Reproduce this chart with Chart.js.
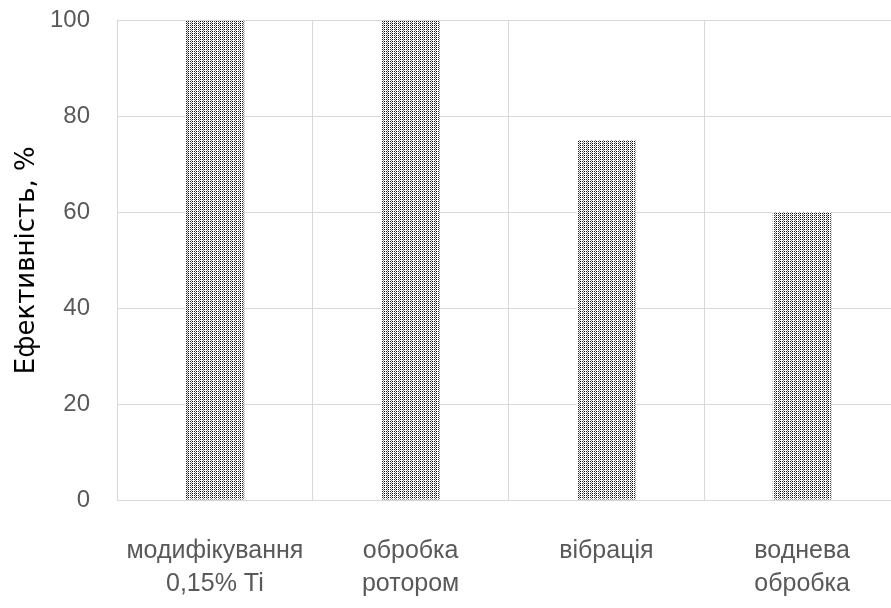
<!DOCTYPE html>
<html>
<head>
<meta charset="utf-8">
<script src="https://cdn.jsdelivr.net/npm/chart.js@4.4.0/dist/chart.umd.min.js"></script>
<style>
  html, body { margin: 0; padding: 0; background: #fff; overflow: hidden; }
  #wrap { position: absolute; left: 0; top: -21px; width: 900px; height: 629px; }
</style>
</head>
<body>
<div id="wrap"><canvas id="barChart" width="900" height="629"></canvas></div>
<script>
// categories and values
const categories = [
  ['модифікування', '0,15% Ti'],
  ['обробка', 'ротором'],
  'вібрація',
  ['воднева', 'обробка']
]
const efficiency = [100, 100, 75, 60]
const yTicks = [0, 20, 40, 60, 80, 100]

// dotted fill, columns of small dots
function makeDots() {
  const c = document.createElement('canvas')
  c.width = 8
  c.height = 2
  const g = c.getContext('2d')
  g.fillStyle = '#fff'
  g.fillRect(0, 0, 8, 2)
  const shades = ['#000', '#fff', '#222', '#777', '#000', '#fff', '#333', '#888']
  for (let i = 0; i < 8; i++) {
    g.fillStyle = shades[i]
    g.fillRect(i, i % 2, 1, 1)
  }
  return g.createPattern(c, 'repeat')
}

const ctx = document.getElementById('barChart').getContext('2d')
const dots = makeDots()

const data = {
  labels: categories,
  datasets: [{
    data: efficiency,
    backgroundColor: dots,
    borderWidth: 0,
    barPercentage: 0.3,
    categoryPercentage: 1
  }]
}

const config = {
  type: 'bar',
  data: data,
  options: {
    responsive: false,
    animation: false,
    layout: { padding: { left: 12, right: 0, top: 10, bottom: 8 } },
    plugins: {
      legend: { display: false },
      tooltip: { enabled: false }
    },
    scales: {
      y: {
        min: 0,
        max: 100,
        afterBuildTicks: axis => { axis.ticks = yTicks.map(v => ({ value: v })) },
        afterFit: axis => { axis.width = 105 },
        grid: { color: '#d9d9d9', lineWidth: 1, drawTicks: false },
        border: { color: '#d9d9d9' },
        ticks: {
          color: '#595959',
          padding: 27,
          font: { family: 'Liberation Sans', size: 24 }
        },
        title: {
          display: true,
          text: 'Ефективність, %',
          color: '#000',
          padding: { top: 0, bottom: 4 },
          font: { family: 'DejaVu Sans', size: 26 }
        }
      },
      x: {
        afterFit: axis => { axis.height = 100 },
        grid: { color: '#d9d9d9', lineWidth: 1, drawTicks: false, offset: true },
        border: { color: '#d9d9d9' },
        ticks: {
          color: '#595959',
          padding: 35,
          font: { family: 'Liberation Sans', size: 25, lineHeight: 1.3 }
        }
      }
    }
  }
}

const myChart = new Chart(ctx, config)
</script>
</body>
</html>
